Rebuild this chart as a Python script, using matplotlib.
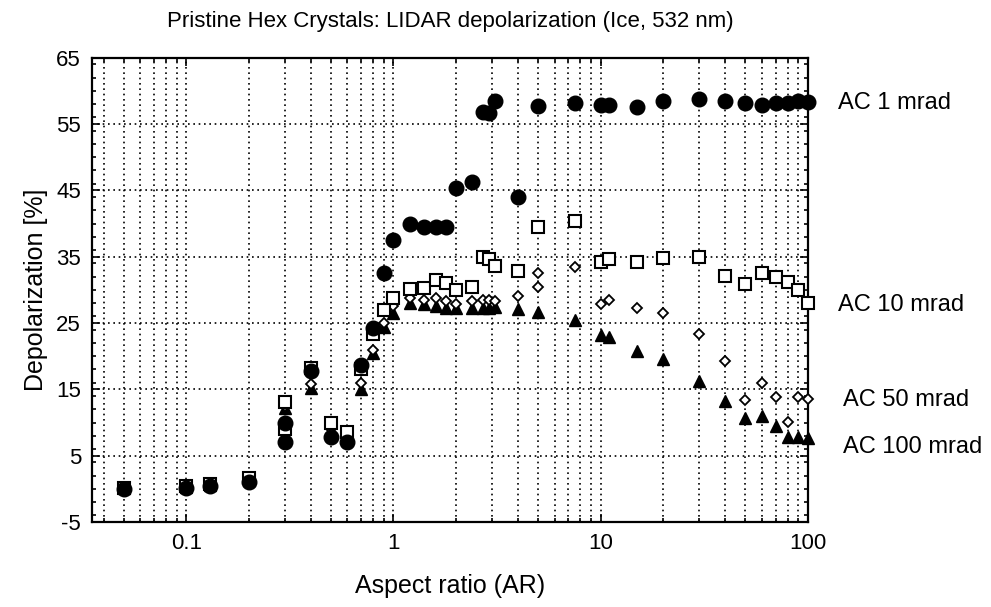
import numpy as np
import matplotlib
matplotlib.use('Agg')
import matplotlib.pyplot as plt
from matplotlib.ticker import LogLocator, FixedLocator, NullFormatter, MultipleLocator

plt.rcParams['font.family'] = ['Liberation Sans', 'DejaVu Sans']
plt.rcParams['axes.unicode_minus'] = False

# AC 1 mrad (filled circles)
x_ac1 = [0.05, 0.1, 0.13, 0.2, 0.3, 0.3, 0.4, 0.5, 0.6, 0.7, 0.8, 0.9, 1.0, 1.2, 1.4, 1.6,
         1.8, 2.0, 2.4, 2.7, 2.9, 3.1, 4, 5, 7.5, 10, 11, 15, 20, 30, 40, 50, 60, 70, 80, 90, 100]
y_ac1 = [0.0, 0.2, 0.5, 1.0, 7.1, 9.9, 17.8, 7.8, 7.0, 18.7, 24.3, 32.5, 37.5, 40.0, 39.5, 39.5,
         39.5, 45.4, 46.2, 56.8, 56.7, 58.4, 44.0, 57.7, 58.1, 57.9, 57.9, 57.6, 58.4, 58.7, 58.4,
         58.1, 57.9, 58.2, 58.2, 58.4, 58.3]

# AC 10 mrad (open squares)
x_ac10 = [0.05, 0.1, 0.13, 0.2, 0.3, 0.3, 0.4, 0.5, 0.6, 0.7, 0.8, 0.9, 1.0, 1.2, 1.4, 1.6,
          1.8, 2.0, 2.4, 2.7, 2.9, 3.1, 4, 5, 7.5, 10, 11, 15, 20, 30, 40, 50, 60, 70, 80, 90, 100]
y_ac10 = [0.2, 0.4, 0.7, 1.6, 9.0, 13.1, 18.2, 10.0, 8.5, 18.0, 23.3, 27.0, 28.8, 30.2, 30.3, 31.5,
          31.0, 30.0, 30.5, 35.0, 34.7, 33.6, 32.9, 39.4, 40.4, 34.2, 34.7, 34.2, 34.8, 35.0, 32.1,
          30.9, 32.6, 32.0, 31.2, 30.0, 28.0]

# AC 50 mrad (open diamonds)
x_ac50 = [0.05, 0.1, 0.13, 0.2, 0.3, 0.4, 0.5, 0.6, 0.7, 0.8, 0.9, 1.0, 1.2, 1.4, 1.6,
          1.8, 2.0, 2.4, 2.7, 2.9, 3.1, 4, 5, 5, 7.5, 10, 11, 15, 20, 30, 40, 50, 60, 70, 80, 90, 100]
y_ac50 = [0.1, 0.3, 0.6, 1.2, 12.5, 15.8, 9.0, 8.0, 16.0, 21.0, 25.0, 27.5, 28.8, 28.5, 28.7,
          28.3, 27.8, 28.3, 28.5, 28.5, 28.3, 29.0, 30.5, 32.6, 33.5, 27.8, 28.4, 27.3, 26.5, 23.4,
          19.3, 13.4, 16.0, 13.9, 10.1, 13.9, 13.6]

# AC 100 mrad (filled triangles)
x_ac100 = [0.05, 0.1, 0.13, 0.2, 0.3, 0.4, 0.5, 0.6, 0.7, 0.8, 0.9, 1.0, 1.2, 1.4, 1.6,
           1.8, 2.0, 2.4, 2.7, 2.9, 3.1, 4, 5, 7.5, 10, 11, 15, 20, 30, 40, 50, 60, 70, 80, 90, 100]
y_ac100 = [0.1, 0.3, 0.6, 1.3, 12.2, 15.2, 8.2, 7.5, 15.0, 20.5, 24.4, 26.5, 28.0, 27.8, 27.5,
           27.3, 27.2, 27.3, 27.3, 27.3, 27.4, 27.1, 26.6, 25.5, 23.2, 22.9, 20.8, 19.6, 16.3,
           13.3, 10.7, 11.0, 9.5, 7.8, 7.8, 7.7]

labels = ['AC 1 mrad', 'AC 10 mrad', 'AC 50 mrad', 'AC 100 mrad']
label_y = [58.2, 27.7, 13.4, 6.3]
label_x = [1.043, 1.043, 1.049, 1.049]

fig = plt.figure(figsize=(9.91, 6.07), dpi=100)
ax = fig.add_axes([0.093, 0.14, 0.722, 0.765])

ax.plot(x_ac100, y_ac100, '^', ms=9, color='black', mec='black', clip_on=False, zorder=3)
ax.plot(x_ac50, y_ac50, 'D', ms=5.5, mfc='white', mec='black', mew=1.3, clip_on=False, zorder=4)
ax.plot(x_ac10, y_ac10, 's', ms=8.5, mfc='white', mec='black', mew=1.5, clip_on=False, zorder=5)
ax.plot(x_ac1, y_ac1, 'o', ms=10.5, color='black', clip_on=False, zorder=6)

ax.set_xscale('log')
ax.set_xlim(0.0351, 100)
ax.set_ylim(-5, 65)
ax.set_yticks(np.arange(-5, 66, 10))
ax.yaxis.set_minor_locator(MultipleLocator(2))
ax.xaxis.set_major_locator(FixedLocator([0.1, 1, 10, 100]))
ax.set_xticklabels(['0.1', '1', '10', '100'])
ax.xaxis.set_minor_locator(LogLocator(base=10, subs=np.arange(2, 10), numticks=20))
ax.xaxis.set_minor_formatter(NullFormatter())

ax.grid(which='major', axis='both', linestyle=(0, (1, 2.2)), color='black', linewidth=1.2)
ax.grid(which='minor', axis='x', linestyle=(0, (1, 2.2)), color='black', linewidth=1.2)
ax.set_axisbelow(True)

ax.tick_params(which='both', direction='in', top=True, right=True, labelsize=16, width=1.2)
ax.tick_params(which='major', length=6, pad=8)
ax.tick_params(which='minor', length=3)
for s in ax.spines.values():
    s.set_linewidth(1.6)

for lab, lx, ly in zip(labels, label_x, label_y):
    ax.annotate(lab, xy=(lx, ly), xycoords=('axes fraction', 'data'),
                fontsize=17, va='center', ha='left', annotation_clip=False)

ax.set_title('Pristine Hex Crystals: LIDAR depolarization (Ice, 532 nm)', fontsize=16, pad=22)
ax.set_xlabel('Aspect ratio (AR)', fontsize=18, labelpad=14)
ax.set_ylabel('Depolarization [%]', fontsize=18, labelpad=6)

plt.savefig('out.png', dpi=100)
